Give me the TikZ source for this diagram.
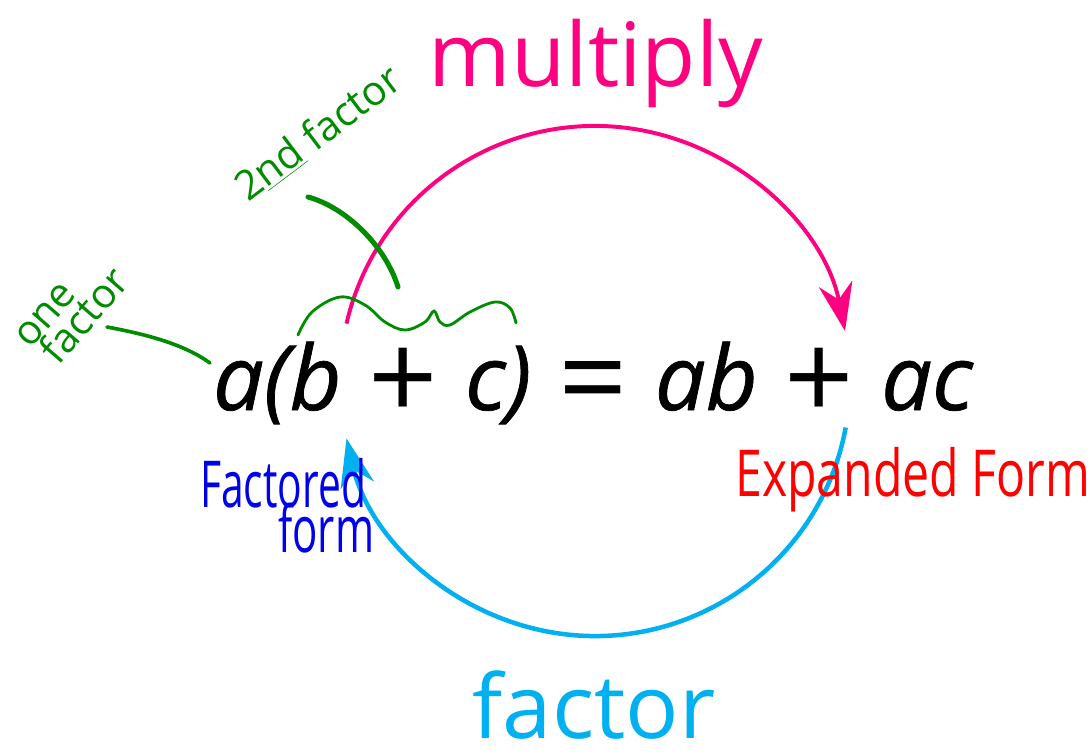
\documentclass[tikz,border=0pt]{standalone}
\usepackage{fontspec}
\setmainfont{Open Sans}
\newfontfamily\eqfont{Open Sans}[FakeBold=0.8]
\usepackage{xcolor}
\usepackage{graphicx}
\usepackage{tikz}
\usetikzlibrary{positioning,arrows.meta}
\definecolor{mulpink}{RGB}{255,0,128}
\definecolor{factcyan}{RGB}{0,176,240}
\definecolor{inkgreen}{RGB}{0,140,0}
\definecolor{inkblue}{RGB}{0,0,235}
\definecolor{inkred}{RGB}{255,0,0}
\newcommand{\opsym}[1]{\hspace{0.3em}\raisebox{-0.12em}{\scalebox{1.35}{\rmfamily\upshape#1}}\hspace{0.3em}}

\begin{document}
\begin{tikzpicture}[
  x=0.025cm, y=0.025cm,
  word/.style={inner sep=0pt, anchor=base, text depth=0pt, font=\fontsize{63}{63}\selectfont},
  eqn/.style={inner sep=0pt, anchor=base, font=\eqfont\fontsize{64}{64}\selectfont\itshape},
  ink/.style={inner sep=0pt, anchor=base west},
  note/.style={ink, text=inkgreen, font=\fontsize{29}{29}\selectfont},
  turn/.style={-{Stealth[length=12mm, width=8.5mm, inset=4mm]}, line width=2.8pt},
  pen/.style={inkgreen, line width=2.6pt, line cap=round}
]
\useasboundingbox (0,0) rectangle (1092,-756);

\node[word, text=mulpink] (mul) at (596,-86) {multiply};
\node[word, text=factcyan] (fac) at (594,-738) {factor};
\node[eqn] (eq) at (593,-410) {a(b\opsym{+}c)\opsym{=}ab\opsym{+}ac};

\coordinate (mulfrom) at (346.5,-323.6);
\coordinate (facfrom) at (845.7,-427.5);
\draw[turn, mulpink] (mulfrom) arc[start angle=167, end angle=11.3, radius=255];
\draw[turn, factcyan, line width=3.2pt] (facfrom) arc[start angle=-10.5, end angle=-167, radius=255];

\node[note, rotate=49] (one) at (30,-350) {one};
\node[note, rotate=49] (onefac) at (58,-367) {factor};
\node[note, rotate=37] (second) at (248,-203) {2\underline{nd} factor};

\coordinate (onetip) at (107,-327);
\coordinate (atip) at (210,-363);
\coordinate (secondtip) at (308,-197);
\coordinate (bracetip) at (398,-287);
\draw[pen] (onetip) .. controls (150,-335) and (185,-345) .. (atip);
\draw[pen, line width=3.6pt] (secondtip) .. controls (345,-207) and (385,-245) .. (bracetip);
\draw[pen, line width=2pt] plot[smooth, tension=0.6] coordinates {(298,-335) (312,-312) (340,-297) (365,-305) (385,-322) (405,-330) (425,-322) (434,-311) (440,-322) (450,-325) (470,-312) (495,-302) (510,-308) (516,-323)};

\node[ink, text=inkblue, font=\fontsize{46}{46}\selectfont] (factored) at (200,-507) {\scalebox{0.63}[1]{Factored}};
\node[ink, text=inkblue, font=\fontsize{46}{46}\selectfont] (formb) at (278,-552) {\scalebox{0.65}[1]{form}};
\node[ink, text=inkred, font=\fontsize{46}{46}\selectfont] (expanded) at (735,-496) {\scalebox{0.745}[1]{Expanded Form}};
\end{tikzpicture}
\end{document}
